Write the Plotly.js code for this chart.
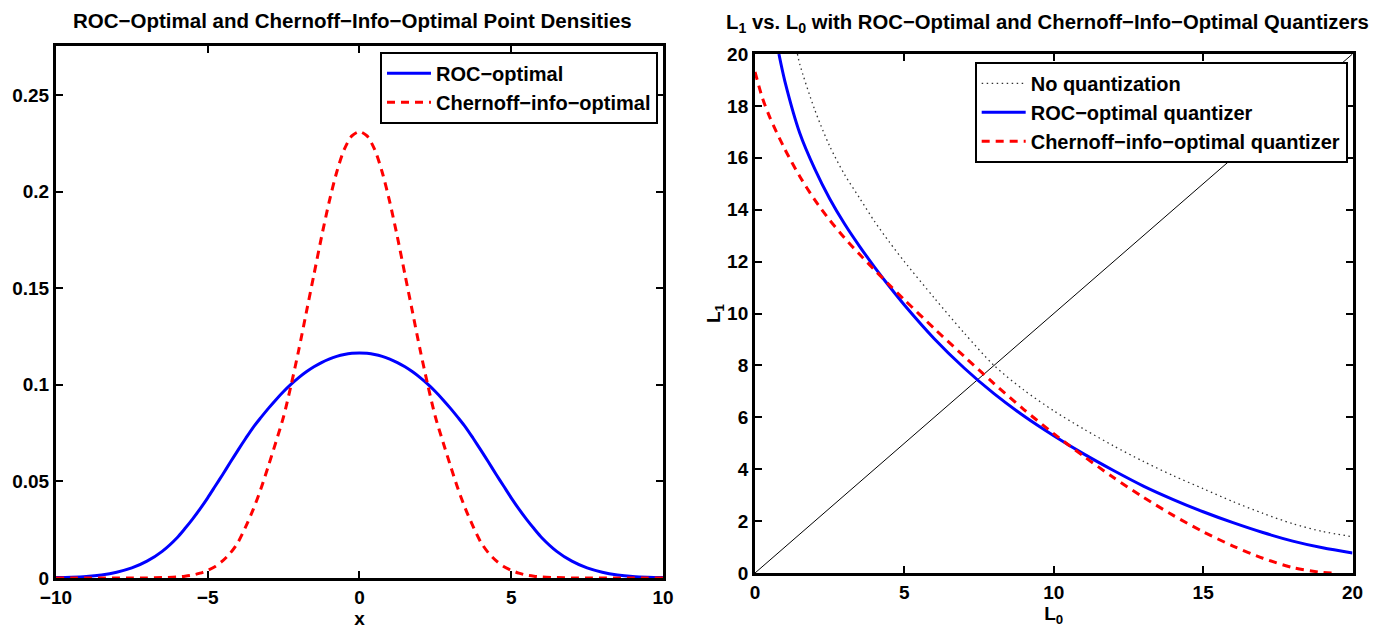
<!DOCTYPE html>
<html>
<head>
<meta charset="utf-8">
<script src="https://cdn.plot.ly/plotly-3.0.1.min.js"></script>
<style>html,body{margin:0;padding:0;background:#fff;}#chart{width:1378px;height:631px;}</style>
</head>
<body>
<div id="chart"></div>
<script>
// ---- Left panel: point densities ----
const xDens = [-10,-9.5,-9,-8.5,-8,-7.5,-7,-6.5,-6,-5.75,-5.5,-5.25,-5,-4.75,-4.5,-4.25,-4,-3.75,-3.5,-3.25,-3,-2.75,-2.5,-2.25,-2,-1.75,-1.5,-1.25,-1,-0.75,-0.5,-0.25,0,
               0.25,0.5,0.75,1,1.25,1.5,1.75,2,2.25,2.5,2.75,3,3.25,3.5,3.75,4,4.25,4.5,4.75,5,5.25,5.5,5.75,6,6.5,7,7.5,8,8.5,9,9.5,10];
const rocDensity = [0.0002,0.0004,0.0008,0.0016,0.003,0.0052,0.0087,0.0138,0.021,0.0256,0.0305,0.0358,0.0415,0.0476,0.0537,0.060,0.0662,0.0722,0.078,0.083,0.0878,0.0923,0.0965,0.1003,0.1037,0.1067,0.1093,0.1115,0.1133,0.1147,0.1157,0.1163,0.1165,
                    0.1163,0.1157,0.1147,0.1133,0.1115,0.1093,0.1067,0.1037,0.1003,0.0965,0.0923,0.0878,0.083,0.078,0.0722,0.0662,0.060,0.0537,0.0476,0.0415,0.0358,0.0305,0.0256,0.021,0.0138,0.0087,0.0052,0.003,0.0016,0.0008,0.0004,0.0002];
const chernoffDensity = [0,0,0,0,0,0,0,0.0002,0.0005,0.0009,0.0015,0.0025,0.004,0.006,0.009,0.013,0.0185,0.0265,0.0355,0.046,0.058,0.0705,0.0835,0.100,0.118,0.1375,0.157,0.1765,0.1945,0.210,0.2218,0.2288,0.231,
                         0.2288,0.2218,0.210,0.1945,0.1765,0.157,0.1375,0.118,0.100,0.0835,0.0705,0.058,0.046,0.0355,0.0265,0.0185,0.013,0.009,0.006,0.004,0.0025,0.0015,0.0009,0.0005,0.0002,0,0,0,0,0,0,0];

// ---- Right panel: L1 vs L0 ----
const l0NoQuant = [1.42,1.5,2,2.5,3,3.5,4,4.5,5,6,7,8,9,10,11,12,13,14,15,16,17,18,19,20];
const l1NoQuant = [20.0,19.6,17.85,16.45,15.35,14.45,13.55,12.75,12.0,10.6,9.25,8.0,7.05,6.25,5.55,4.9,4.3,3.75,3.25,2.75,2.3,1.9,1.6,1.4];
const l0Roc = [0.8,1,1.5,2,2.5,3,3.5,4,4.5,5,6,7,8,9,10,11,12,13,14,15,16,17,18,19,20];
const l1Roc = [20.0,18.95,16.95,15.575,14.425,13.45,12.59,11.79,11.04,10.33,9.03,7.9,6.91,6.05,5.29,4.59,3.95,3.35,2.83,2.36,1.94,1.56,1.23,0.97,0.77];
const l0Chern = [0,0.25,0.5,1,1.5,2,2.5,3,3.5,4,4.5,5,6,7,8,9,10,11,12,13,14,15,16,17,18,19,19.3];
const l1Chern = [19.31,18.3,17.55,16.33,15.28,14.38,13.6,12.91,12.28,11.68,11.1,10.53,9.42,8.35,7.30,6.30,5.37,4.50,3.68,2.92,2.22,1.59,1.04,0.57,0.21,0.02,0.0];
const diagL0 = [0,20];
const diagL1 = [0,20];

const xTicksLeft = [-10,-5,0,5,10];
const yTicksLeft = [0,0.05,0.1,0.15,0.2,0.25];
const yTickTextLeft = ['0','0.05','0.1','0.15','0.2','0.25'];
const xTicksRight = [0,5,10,15,20];
const yTicksRight = [0,2,4,6,8,10,12,14,16,18,20];

const FONT = 'Liberation Sans, Arial, Helvetica, sans-serif';
const traces = [
  {x:xDens, y:rocDensity, type:'scatter', mode:'lines', name:'ROC\u2212optimal',
   line:{color:'#0000ff', width:3, shape:'spline', smoothing:0.8}, xaxis:'x', yaxis:'y', legend:'legend'},
  {x:xDens, y:chernoffDensity, type:'scatter', mode:'lines', name:'Chernoff\u2212info\u2212optimal',
   line:{color:'#ff0000', width:3, dash:'8px,6px', shape:'spline', smoothing:0.8}, xaxis:'x', yaxis:'y', legend:'legend'},
  {x:diagL0, y:diagL1, type:'scatter', mode:'lines', showlegend:false,
   line:{color:'#000000', width:1}, xaxis:'x2', yaxis:'y2'},
  {x:l0NoQuant, y:l1NoQuant, type:'scatter', mode:'lines', name:'No quantization',
   line:{color:'#333333', width:1.3, dash:'1.5px,3.5px', shape:'spline', smoothing:0.8}, xaxis:'x2', yaxis:'y2', legend:'legend2'},
  {x:l0Roc, y:l1Roc, type:'scatter', mode:'lines', name:'ROC\u2212optimal quantizer',
   line:{color:'#0000ff', width:3, shape:'spline', smoothing:0.8}, xaxis:'x2', yaxis:'y2', legend:'legend2'},
  {x:l0Chern, y:l1Chern, type:'scatter', mode:'lines', name:'Chernoff\u2212info\u2212optimal quantizer',
   line:{color:'#ff0000', width:3, dash:'8px,6px', shape:'spline', smoothing:0.8}, xaxis:'x2', yaxis:'y2', legend:'legend2'}
];

function axisBase(){
  return {showline:true, linecolor:'#000', linewidth:3, mirror:'ticks', ticks:'inside', ticklen:7, tickwidth:2,
          tickcolor:'#000', showgrid:false, zeroline:false, automargin:false,
          tickfont:{family:FONT, size:19, color:'#000', weight:'bold'}};
}
const titleFont = {family:FONT, size:19, color:'#000', weight:'bold'};
const xa = Object.assign(axisBase(), {domain:[0.0406,0.4811], range:[-10,10], tickmode:'array', tickvals:xTicksLeft,
  title:{text:'x', standoff:2, font:titleFont}, anchor:'y'});
const ya = Object.assign(axisBase(), {domain:[0.084,0.927], range:[0,0.2753], tickmode:'array', tickvals:yTicksLeft, ticktext:yTickTextLeft, anchor:'x'});
const xa2 = Object.assign(axisBase(), {domain:[0.5479,0.9815], range:[0,20], tickmode:'array', tickvals:xTicksRight,
  title:{text:'L<sub>0</sub>', standoff:2, font:titleFont}, anchor:'y2'});
const ya2 = Object.assign(axisBase(), {domain:[0.0919,0.9144], range:[0,20], tickmode:'array', tickvals:yTicksRight,
  title:{text:'L<sub>1</sub>', standoff:2, font:titleFont}, anchor:'x2'});

const legendFont = {family:FONT, size:20, color:'#000', weight:'bold'};
const layout = {
  width:1378, height:631, margin:{l:0,r:0,t:0,b:0}, paper_bgcolor:'#fff', plot_bgcolor:'#fff',
  font:{family:FONT, color:'#000', weight:'bold'},
  xaxis:xa, yaxis:ya, xaxis2:xa2, yaxis2:ya2,
  legend:{x:0.4775, y:0.918, xanchor:'right', yanchor:'top', bgcolor:'#fff', bordercolor:'#000', borderwidth:2,
          font:legendFont, tracegroupgap:0, itemwidth:44},
  legend2:{x:0.978, y:0.902, xanchor:'right', yanchor:'top', bgcolor:'#fff', bordercolor:'#000', borderwidth:2,
          font:legendFont, tracegroupgap:0, itemwidth:44},
  annotations:[
    {text:'ROC\u2212Optimal and Chernoff\u2212Info\u2212Optimal Point Densities', xref:'paper', yref:'paper', x:0.2558, y:0.968,
     xanchor:'center', yanchor:'middle', showarrow:false, font:{family:FONT, size:20.5, color:'#000', weight:'bold'}},
    {text:'L<sub>1</sub> vs. L<sub>0</sub> with ROC\u2212Optimal and Chernoff\u2212Info\u2212Optimal Quantizers', xref:'paper', yref:'paper', x:0.760, y:0.962,
     xanchor:'center', yanchor:'middle', showarrow:false, font:{family:FONT, size:20.3, color:'#000', weight:'bold'}}
  ]
};
Plotly.newPlot('chart', traces, layout, {displayModeBar:false, staticPlot:true});
</script>
</body>
</html>
